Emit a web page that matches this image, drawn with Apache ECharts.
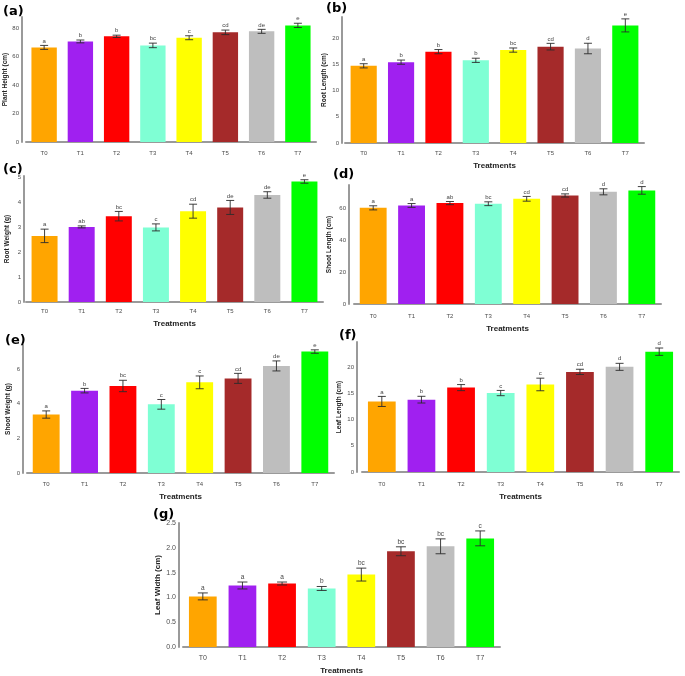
<!DOCTYPE html>
<html>
<head>
<meta charset="utf-8">
<title>Treatments</title>
<script src="https://cdn.jsdelivr.net/npm/echarts/dist/echarts.min.js"></script>
<style>
  html, body { margin: 0; padding: 0; background: #fff; }
  #chart { width: 685px; height: 676px; }
</style>
</head>
<body>
<div id="chart"></div>
<script>
// categories
var treatments = ['T0', 'T1', 'T2', 'T3', 'T4', 'T5', 'T6', 'T7'];

// (a) plant height
var plantHeight = [66.6, 70.8, 74.4, 68.0, 73.4, 77.2, 77.9, 82.1];
var plantHeightErr = [1.4, 1.0, 0.8, 1.6, 1.4, 1.6, 1.4, 1.5];
var plantHeightSig = ['a', 'b', 'b', 'bc', 'c', 'cd', 'de', 'e'];

// (b) root length
var rootLength = [14.7, 15.4, 17.4, 15.75, 17.7, 18.35, 18.0, 22.4];
var rootLengthErr = [0.4, 0.4, 0.4, 0.4, 0.4, 0.63, 1.0, 1.24];
var rootLengthSig = ['a', 'b', 'b', 'b', 'bc', 'cd', 'd', 'e'];

// (c) root weight
var rootWeight = [2.65, 3.01, 3.44, 2.99, 3.64, 3.79, 4.29, 4.83];
var rootWeightErr = [0.27, 0.04, 0.19, 0.14, 0.28, 0.28, 0.13, 0.07];
var rootWeightSig = ['a', 'ab', 'bc', 'c', 'cd', 'de', 'de', 'e'];

// (d) shoot length
var shootLength = [60.6, 62.1, 63.6, 63.2, 66.3, 68.4, 70.7, 71.6];
var shootLengthErr = [1.3, 1.2, 1.0, 1.2, 1.5, 1.0, 1.9, 2.4];
var shootLengthSig = ['a', 'a', 'ab', 'bc', 'cd', 'cd', 'd', 'd'];

// (e) shoot weight
var shootWeight = [3.38, 4.76, 5.03, 3.97, 5.24, 5.47, 6.19, 7.02];
var shootWeightErr = [0.21, 0.13, 0.33, 0.28, 0.37, 0.29, 0.29, 0.1];
var shootWeightSig = ['a', 'b', 'bc', 'c', 'c', 'cd', 'de', 'e'];

// (f) leaf length
var leafLength = [13.46, 13.8, 16.1, 15.06, 16.7, 19.1, 20.06, 22.95];
var leafLengthErr = [0.96, 0.64, 0.58, 0.5, 1.2, 0.5, 0.67, 0.7];
var leafLengthSig = ['a', 'b', 'b', 'c', 'c', 'cd', 'd', 'd'];

// (g) leaf width
var leafWidth = [1.02, 1.24, 1.28, 1.18, 1.46, 1.93, 2.03, 2.19];
var leafWidthErr = [0.07, 0.07, 0.03, 0.04, 0.13, 0.09, 0.15, 0.15];
var leafWidthSig = ['a', 'a', 'a', 'b', 'bc', 'bc', 'bc', 'c'];

// bar colours (style)
var barColors = ['#FFA500', '#A020F0', '#FF0000', '#7FFFD4', '#FFFF00', '#A52A2A', '#BEBEBE', '#00FF00'];

// panel layout
var panels = [
  { tag: '(a)', tagPos: [3, 5], yName: 'Plant Height (cm)', vals: plantHeight, err: plantHeightErr, sig: plantHeightSig,
    grid: [26, 17, 290, 125], max: 88, interval: 20, off: 4, nameGap: 13, xName: '' },
  { tag: '(b)', tagPos: [326, 2], yName: 'Root Length (cm)', vals: rootLength, err: rootLengthErr, sig: rootLengthSig,
    grid: [345, 17, 299, 126], max: 24, interval: 5, off: 3, nameGap: 14, xName: 'Treatments' },
  { tag: '(c)', tagPos: [3, 163], yName: 'Root Weight (g)', vals: rootWeight, err: rootWeightErr, sig: rootWeightSig,
    grid: [26, 176, 297, 126], max: 5.05, interval: 1, off: 2, nameGap: 13, xName: 'Treatments' },
  { tag: '(d)', tagPos: [333, 168], yName: 'Shoot Length (cm)', vals: shootLength, err: shootLengthErr, sig: shootLengthSig,
    grid: [354, 185, 307, 119], max: 75, interval: 20, off: 5, nameGap: 16, xName: 'Treatments' },
  { tag: '(e)', tagPos: [5, 334], yName: 'Shoot Weight (g)', vals: shootWeight, err: shootWeightErr, sig: shootWeightSig,
    grid: [27, 345, 307, 128], max: 7.4, interval: 2, off: 4, nameGap: 11, xName: 'Treatments' },
  { tag: '(f)', tagPos: [339, 329], yName: 'Leaf Length (cm)', vals: leafLength, err: leafLengthErr, sig: leafLengthSig,
    grid: [362, 342, 317, 130], max: 24.8, interval: 5, off: 5, nameGap: 14, xName: 'Treatments' },
  { tag: '(g)', tagPos: [153, 508], yName: 'Leaf Width (cm)', vals: leafWidth, err: leafWidthErr, sig: leafWidthSig,
    grid: [183, 523, 317, 128], max: 2.5, interval: 0.5, off: 4, nameGap: 17, xName: 'Treatments', big: true }
];

var FONT = 'Liberation Sans';

//误差线 + 显著性字母
function errRender(sig, cap, fs) {
  return function (params, api) {
    var i = api.value(0), m = api.value(1), e = api.value(2);
    var top = api.coord([i, m + e]);
    var bot = api.coord([i, m - e]);
    var x = top[0];
    var st = { stroke: '#2b2b2b', lineWidth: 0.9 };
    return {
      type: 'group',
      children: [
        { type: 'line', shape: { x1: x, y1: top[1], x2: x, y2: bot[1] }, style: st },
        { type: 'line', shape: { x1: x - cap, y1: top[1], x2: x + cap, y2: top[1] }, style: st },
        { type: 'line', shape: { x1: x - cap, y1: bot[1], x2: x + cap, y2: bot[1] }, style: st },
        { type: 'text', style: { text: sig[params.dataIndex], x: x, y: top[1] - 1.5, align: 'center',
          verticalAlign: 'bottom', fontSize: fs, fontFamily: FONT, fill: '#444' } }
      ]
    };
  };
}

var grids = [], xAxes = [], yAxes = [], series = [], titles = [];

panels.forEach(function (p, k) {
  var tickFs = p.big ? 7 : 6;
  var nameFs = p.big ? 8 : 6.5;
  grids.push({ left: p.grid[0], top: p.grid[1], width: p.grid[2], height: p.grid[3] });
  xAxes.push({
    type: 'category', gridIndex: k, data: treatments, offset: p.off,
    axisLine: { lineStyle: { color: '#9a9a9a', width: 2 } },
    axisTick: { show: false },
    axisLabel: { fontSize: tickFs, color: '#4d4d4d', fontFamily: FONT, margin: 4 },
    name: p.xName, nameLocation: 'middle', nameGap: 16,
    nameTextStyle: { fontSize: 8, fontWeight: 'bold', color: '#222', fontFamily: FONT }
  });
  yAxes.push({
    type: 'value', gridIndex: k, min: 0, max: p.max, interval: p.interval, offset: p.off,
    splitLine: { show: false },
    axisLine: { show: true, lineStyle: { color: '#9a9a9a', width: 2 } },
    axisTick: { show: false },
    axisLabel: {
      fontSize: tickFs, color: '#4d4d4d', fontFamily: FONT, margin: 3,
      showMaxLabel: Math.abs(p.max / p.interval - Math.round(p.max / p.interval)) < 1e-9,
      formatter: function (v) { return p.big ? v.toFixed(1) : String(v); }
    },
    name: p.yName, nameLocation: 'middle', nameGap: p.nameGap, nameRotate: 90,
    nameTextStyle: { fontSize: nameFs, fontWeight: 'bold', color: '#222', fontFamily: FONT }
  });
  series.push({
    type: 'bar', xAxisIndex: k, yAxisIndex: k, barWidth: '70%',
    data: p.vals.map(function (v, i) { return { value: v, itemStyle: { color: barColors[i] } }; })
  });
  series.push({
    type: 'custom', xAxisIndex: k, yAxisIndex: k, z: 5,
    renderItem: errRender(p.sig, p.big ? 5 : 4, p.big ? 6.5 : 6),
    data: p.vals.map(function (v, i) { return [i, v, p.err[i]]; })
  });
  titles.push({
    text: p.tag, left: p.tagPos[0], top: p.tagPos[1], padding: 0,
    textStyle: { fontSize: 13, fontWeight: 'bold', color: '#000', fontFamily: 'DejaVu Sans' }
  });
});

var chart = echarts.init(document.getElementById('chart'));
chart.setOption({
  backgroundColor: '#fff',
  animation: false,
  title: titles,
  grid: grids,
  xAxis: xAxes,
  yAxis: yAxes,
  series: series
});
</script>
</body>
</html>
